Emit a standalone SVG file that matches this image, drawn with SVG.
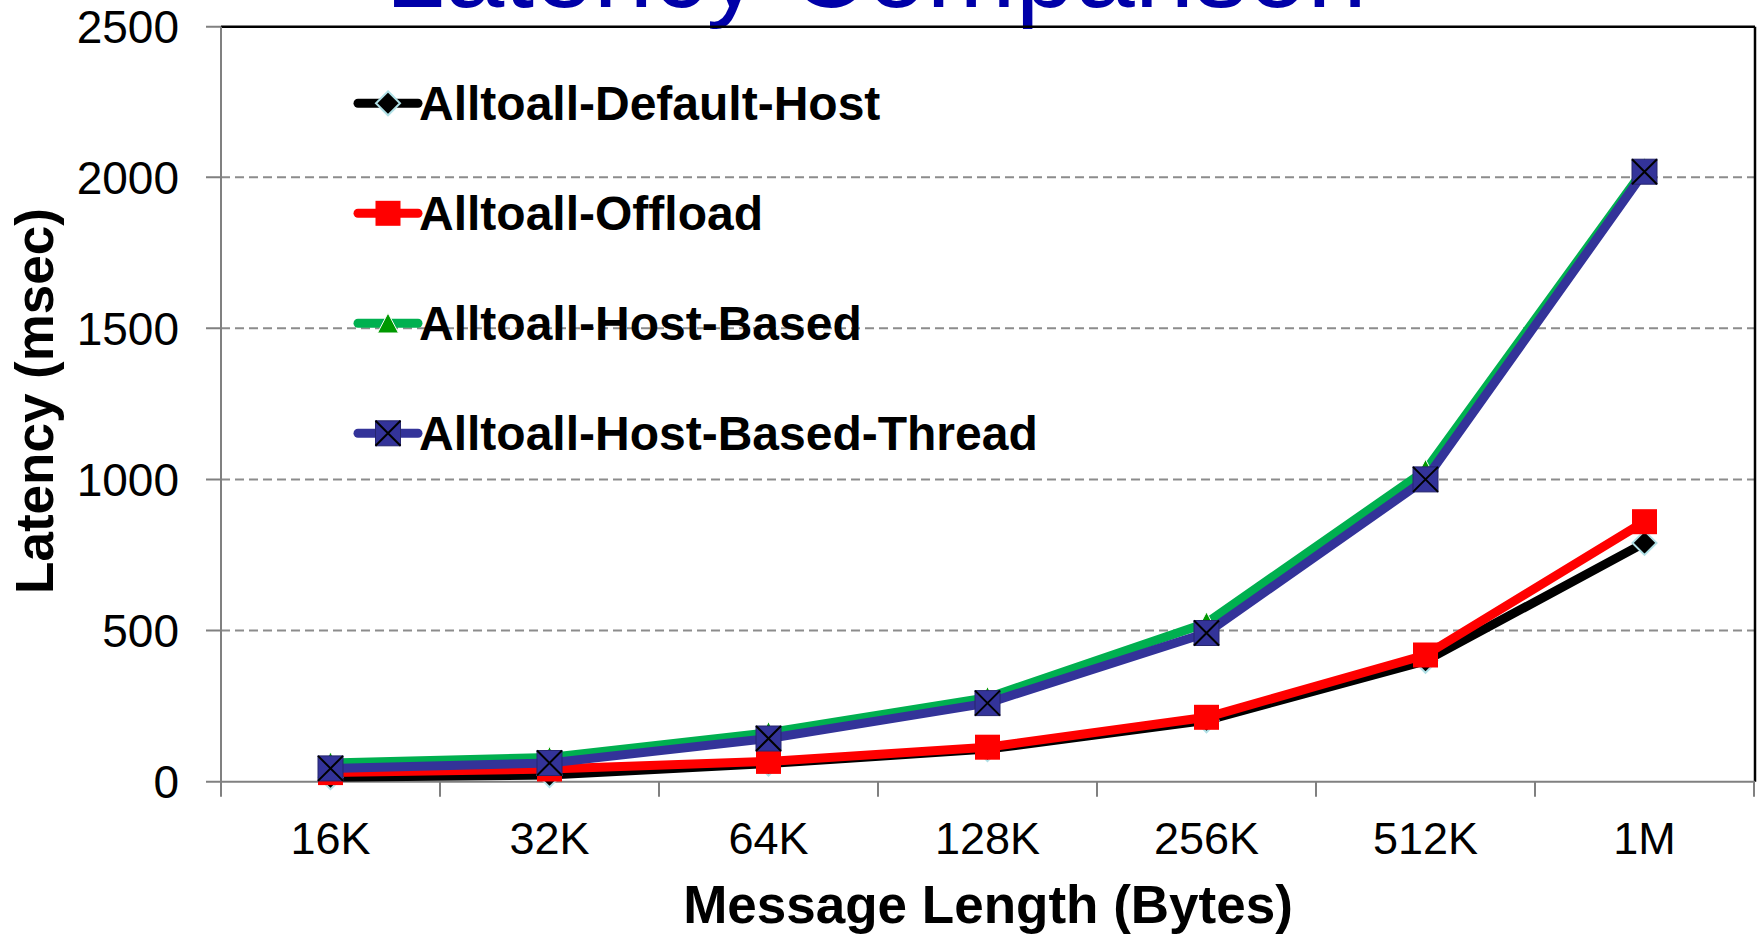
<svg xmlns="http://www.w3.org/2000/svg" width="1758" height="934" viewBox="0 0 1758 934">
  <style>
    .tick { font-family: "Liberation Sans", Arial, sans-serif; font-size: 46px; fill: #000; }
    .xtick { font-family: "Liberation Sans", Arial, sans-serif; font-size: 45px; fill: #000; text-anchor: middle; }
    .axtitle { font-family: "Liberation Sans", Arial, sans-serif; font-size: 53px; font-weight: bold; fill: #000; text-anchor: middle; }
    .legtext { font-family: "Liberation Sans", Arial, sans-serif; font-size: 48px; font-weight: bold; fill: #000; }
    .title { font-family: "Liberation Sans", Arial, sans-serif; font-size: 107px; fill: #0000A8; text-anchor: middle; }
    .grid { stroke: #8c8c8c; stroke-width: 2; stroke-dasharray: 9 5; fill: none; }
    .axis { stroke: #808080; stroke-width: 2; fill: none; }
    .frame { stroke: #000; stroke-width: 2.5; fill: none; }
    .s-black { stroke: #000; stroke-width: 9; fill: none; stroke-linejoin: round; }
    .s-red { stroke: #ff0000; stroke-width: 9; fill: none; stroke-linejoin: round; }
    .s-green { stroke: #00b050; stroke-width: 9; fill: none; stroke-linejoin: round; }
    .s-navy { stroke: #333399; stroke-width: 9; fill: none; stroke-linejoin: round; }
    .leg { stroke-width: 9; stroke-linecap: round; fill: none; }
  </style>
  <defs>
    <polygon id="m-diamond" points="0,-12 12,0 0,12 -12,0" fill="#000" stroke="#b0e0e6" stroke-width="2"/>
    <rect id="m-square" x="-12.5" y="-12.5" width="25" height="25" fill="#ff0000"/>
    <polygon id="m-tri" points="0,-11 10.5,9 -10.5,9" fill="#009900" stroke="#ffffff" stroke-width="1"/>
    <g id="m-xsq">
      <rect x="-12.5" y="-12.5" width="25" height="25" fill="#333399" stroke="#26266e" stroke-width="1"/>
      <path d="M-12.5,-12.5 L12.5,12.5 M12.5,-12.5 L-12.5,12.5" stroke="#000" stroke-width="2"/>
    </g>
  </defs>

  <rect width="1758" height="934" fill="#ffffff"/>

  <!-- chart title, partly above the top edge -->
  <text class="title" x="876" y="7">Latency Comparison</text>

  <!-- gridlines -->
  <g id="gridlines">
    <line class="grid" x1="221" y1="630.6" x2="1755" y2="630.6"/>
    <line class="grid" x1="221" y1="479.5" x2="1755" y2="479.5"/>
    <line class="grid" x1="221" y1="328.3" x2="1755" y2="328.3"/>
    <line class="grid" x1="221" y1="177.2" x2="1755" y2="177.2"/>
  </g>

  <!-- plot frame and axes -->
  <g id="axes">
    <line class="frame" x1="221" y1="26.7" x2="1755" y2="26.7"/>
    <line class="frame" x1="1755" y1="26.7" x2="1755" y2="781.7"/>
    <line class="axis" x1="221" y1="26.7" x2="221" y2="781.7"/>
    <line class="axis" x1="206" y1="781.7" x2="1755" y2="781.7"/>
    <path class="axis" d="M206,26.7 H221 M206,177.2 H221 M206,328.3 H221 M206,479.5 H221 M206,630.6 H221"/>
    <path class="axis" d="M221,781.7 V796.7 M440,781.7 V796.7 M659,781.7 V796.7 M878,781.7 V796.7 M1097,781.7 V796.7 M1316,781.7 V796.7 M1535,781.7 V796.7 M1754,781.7 V796.7"/>
  </g>

  <!-- y axis labels -->
  <g id="y-labels">
    <text class="tick" x="179" y="43.2" text-anchor="end">2500</text>
    <text class="tick" x="179" y="193.7" text-anchor="end">2000</text>
    <text class="tick" x="179" y="344.8" text-anchor="end">1500</text>
    <text class="tick" x="179" y="496" text-anchor="end">1000</text>
    <text class="tick" x="179" y="647.1" text-anchor="end">500</text>
    <text class="tick" x="179" y="798.2" text-anchor="end">0</text>
  </g>

  <!-- x axis labels -->
  <g id="x-labels">
    <text class="xtick" x="330.5" y="854">16K</text>
    <text class="xtick" x="549.5" y="854">32K</text>
    <text class="xtick" x="768.5" y="854">64K</text>
    <text class="xtick" x="987.5" y="854">128K</text>
    <text class="xtick" x="1206.5" y="854">256K</text>
    <text class="xtick" x="1425.5" y="854">512K</text>
    <text class="xtick" x="1644.5" y="854">1M</text>
  </g>

  <!-- axis titles -->
  <g id="axis-titles">
    <text class="axtitle" x="988" y="923">Message Length (Bytes)</text>
    <text class="axtitle" transform="translate(53,401) rotate(-90)">Latency (msec)</text>
  </g>

  <!-- data series -->
  <g id="series">
    <g id="series-default-host">
      <polyline class="s-black" points="330.5,777.2 549.5,775.1 768.5,763.6 987.5,749.1 1206.5,720.3 1425.5,660.8 1644.5,542.9"/>
      <use href="#m-diamond" x="330.5" y="777.2"/>
      <use href="#m-diamond" x="549.5" y="775.1"/>
      <use href="#m-diamond" x="768.5" y="763.6"/>
      <use href="#m-diamond" x="987.5" y="749.1"/>
      <use href="#m-diamond" x="1206.5" y="720.3"/>
      <use href="#m-diamond" x="1425.5" y="660.8"/>
      <use href="#m-diamond" x="1644.5" y="542.9"/>
    </g>
    <g id="series-offload">
      <polyline class="s-red" points="330.5,772.6 549.5,769.0 768.5,761.4 987.5,747.2 1206.5,717.3 1425.5,655.0 1644.5,521.7"/>
      <use href="#m-square" x="330.5" y="772.6"/>
      <use href="#m-square" x="549.5" y="769.0"/>
      <use href="#m-square" x="768.5" y="761.4"/>
      <use href="#m-square" x="987.5" y="747.2"/>
      <use href="#m-square" x="1206.5" y="717.3"/>
      <use href="#m-square" x="1425.5" y="655.0"/>
      <use href="#m-square" x="1644.5" y="521.7"/>
    </g>
    <g id="series-host-based">
      <polyline class="s-green" points="330.5,763.0 549.5,757.5 768.5,732.7 987.5,697.7 1206.5,623.0 1425.5,470.4 1644.5,168.7"/>
      <use href="#m-tri" x="330.5" y="763.0"/>
      <use href="#m-tri" x="549.5" y="757.5"/>
      <use href="#m-tri" x="768.5" y="732.7"/>
      <use href="#m-tri" x="987.5" y="697.7"/>
      <use href="#m-tri" x="1206.5" y="623.0"/>
      <use href="#m-tri" x="1425.5" y="470.4"/>
      <use href="#m-tri" x="1644.5" y="168.7"/>
    </g>
    <g id="series-host-based-thread">
      <polyline class="s-navy" points="330.5,768.4 549.5,763.0 768.5,738.5 987.5,703.1 1206.5,633.0 1425.5,479.4 1644.5,171.7"/>
      <use href="#m-xsq" x="330.5" y="768.4"/>
      <use href="#m-xsq" x="549.5" y="763.0"/>
      <use href="#m-xsq" x="768.5" y="738.5"/>
      <use href="#m-xsq" x="987.5" y="703.1"/>
      <use href="#m-xsq" x="1206.5" y="633.0"/>
      <use href="#m-xsq" x="1425.5" y="479.4"/>
      <use href="#m-xsq" x="1644.5" y="171.7"/>
    </g>
  </g>

  <!-- legend -->
  <g id="legend">
    <g id="legend-default-host">
      <line class="leg" x1="358" y1="103.3" x2="418" y2="103.3" stroke="#000"/>
      <use href="#m-diamond" x="388" y="103.3"/>
      <text class="legtext" x="419" y="119.8">Alltoall-Default-Host</text>
    </g>
    <g id="legend-offload">
      <line class="leg" x1="358" y1="213.3" x2="418" y2="213.3" stroke="#ff0000"/>
      <use href="#m-square" x="388" y="213.3"/>
      <text class="legtext" x="419" y="229.8">Alltoall-Offload</text>
    </g>
    <g id="legend-host-based">
      <line class="leg" x1="358" y1="323.3" x2="418" y2="323.3" stroke="#00b050"/>
      <use href="#m-tri" x="388" y="324"/>
      <text class="legtext" x="419" y="339.8">Alltoall-Host-Based</text>
    </g>
    <g id="legend-host-based-thread">
      <line class="leg" x1="358" y1="433.3" x2="418" y2="433.3" stroke="#333399"/>
      <use href="#m-xsq" x="388" y="433.3"/>
      <text class="legtext" x="419" y="449.8">Alltoall-Host-Based-Thread</text>
    </g>
  </g>
</svg>
